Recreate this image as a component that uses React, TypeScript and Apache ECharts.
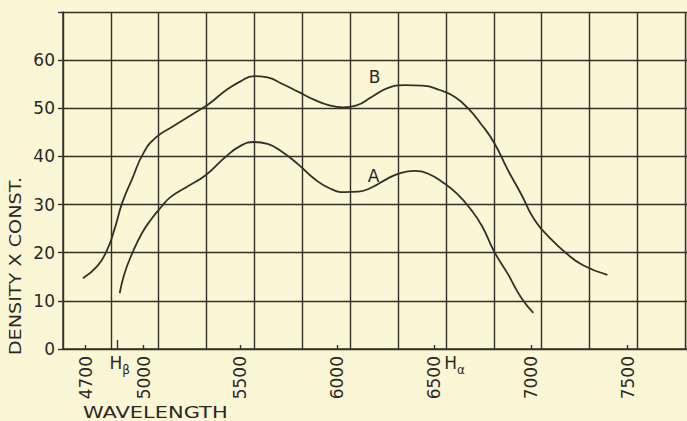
import React, { useEffect, useRef } from "react";
import * as echarts from "echarts";

// ---- data ----
const wavelengthsB = [4686, 4760, 4810, 4850, 4890, 4940, 5000, 5065, 5150, 5250, 5340, 5420, 5500, 5570, 5640, 5720, 5800, 5880, 5960, 6030, 6100, 6180, 6260, 6350, 6440, 6530, 6610, 6680, 6740, 6810, 6880, 6950, 7020, 7100, 7180, 7270, 7396];
const densityB = [14.7, 17.2, 20.5, 25, 30.5, 35.3, 40.8, 44, 46.2, 48.7, 51, 53.6, 55.6, 56.7, 56.4, 55, 53.4, 51.8, 50.6, 50.2, 50.6, 52.4, 54.2, 54.8, 54.7, 53.8, 52.3, 49.8, 46.9, 42.9, 37.3, 32.2, 26.8, 23, 20, 17.4, 15.4];
const wavelengthsA = [4876, 4900, 4940, 4990, 5040, 5090, 5140, 5220, 5320, 5420, 5500, 5570, 5640, 5720, 5800, 5880, 5960, 6040, 6110, 6180, 6260, 6330, 6400, 6470, 6550, 6620, 6690, 6750, 6810, 6880, 6950, 7013];
const densityA = [11.6, 15.6, 19.8, 24, 27, 29.5, 31.6, 33.6, 36.1, 39.8, 42.2, 43, 42.6, 40.8, 38.3, 35.4, 33.4, 32.6, 32.7, 33.6, 35.4, 36.6, 37, 36.4, 34.5, 32.2, 29, 25.4, 20.3, 15.7, 10.7, 7.5];
const wavelengthTicks = [4700, 5000, 5500, 6000, 6500, 7000, 7500];
const lineTicks = [4861, 6563];
const lineNames = ["β", "α"];
const curveLabels = ["B", "A"];
const curveLabelCoords = [[6193, 56.5], [6188, 35.9]];

const INK = "#34302b";
const TEXT = "#2b2925";
const BG = "#FAF6D6";
const FONT = "DejaVu Sans";

export default function App() {
  const ref = useRef<HTMLDivElement>(null);
  useEffect(() => {
    if (!ref.current) return;
    const chart = echarts.init(ref.current, undefined, { renderer: "svg" });
    const lamMin = 4583;
    const pxPerLam = 0.19508;
    const gridW = 629; // grid extends a few px beyond the right edge
    const lamMax = lamMin + gridW / pxPerLam;
    const cell = 48.25;
    const toPairs = (xs: number[], ys: number[]) => xs.map((x, i) => [x, ys[i]]);
    const richBase = { fontFamily: FONT, color: TEXT };
    chart.setOption({
      animation: false,
      backgroundColor: BG,
      grid: { left: 63, top: 12, right: 687 - 63 - gridW, bottom: 72, containLabel: false },
      xAxis: [
        {
          type: "value", min: 0, max: gridW / cell, interval: 1,
          axisLine: { show: true, lineStyle: { color: INK, width: 1.5 } },
          axisTick: { show: false }, axisLabel: { show: false },
          splitLine: { show: true, lineStyle: { color: INK, width: 1.4 } },
        },
        {
          type: "value", min: lamMin, max: lamMax, position: "bottom",
          axisLine: { show: false }, splitLine: { show: false },
          axisTick: { show: true, inside: true, length: 4, customValues: wavelengthTicks, lineStyle: { color: INK, width: 1.4 } },
          axisLabel: {
            show: true, customValues: wavelengthTicks, rotate: 90, margin: 7,
            color: TEXT, fontSize: 17, fontFamily: FONT,
            formatter: (v: number) => String(Math.round(v)),
          },
        },
        {
          type: "value", min: lamMin, max: lamMax, position: "bottom",
          axisLine: { show: false }, splitLine: { show: false },
          axisTick: { show: true, inside: true, length: 9, customValues: [lineTicks[0]], lineStyle: { color: INK, width: 1.4 } },
          axisLabel: {
            show: true, customValues: lineTicks, margin: 1, align: "center",
            formatter: (v: number) => {
              const i = lineTicks.findIndex((t) => Math.abs(t - v) < 1);
              return i === 0 ? "{hb|H}{s|" + lineNames[i] + "}" : "{ha|H}{s|" + lineNames[i] + "}";
            },
            rich: {
              hb: { ...richBase, fontSize: 17, lineHeight: 26, verticalAlign: "middle", padding: [0, 0, 0, 6] },
              ha: { ...richBase, fontSize: 17, lineHeight: 26, verticalAlign: "middle", padding: [0, 0, 0, 17] },
              s: { ...richBase, fontSize: 12, lineHeight: 12, verticalAlign: "bottom" },
            },
          },
        },
      ],
      yAxis: {
        type: "value", min: 0, max: 70, interval: 10,
        axisLine: { show: true, lineStyle: { color: INK, width: 1.5 } },
        axisTick: { show: true, length: 5, lineStyle: { color: INK, width: 1.4 } },
        axisLabel: {
          margin: 8, color: TEXT, fontSize: 17, fontFamily: FONT,
          formatter: (v: number) => (v >= 70 ? "" : String(v)),
        },
        splitLine: { show: true, lineStyle: { color: INK, width: 1.4 } },
      },
      graphic: [
        {
          type: "text", x: 16, y: 266, rotation: Math.PI / 2, scaleX: 1.2,
          style: { text: "DENSITY X CONST.", fill: TEXT, fontSize: 16, fontFamily: FONT, align: "center", verticalAlign: "middle" },
        },
        {
          type: "text", x: 83, y: 412, scaleX: 1.31,
          style: { text: "WAVELENGTH", fill: TEXT, fontSize: 16, fontFamily: FONT, align: "left", verticalAlign: "middle" },
        },
      ],
      series: [
        {
          type: "line", name: "B", xAxisIndex: 1, yAxisIndex: 0,
          data: toPairs(wavelengthsB, densityB), smooth: 0.5, symbol: "none",
          lineStyle: { color: INK, width: 1.8 },
          markPoint: {
            symbol: "circle", symbolSize: 0,
            label: { show: true, position: "inside", color: TEXT, fontSize: 17, fontFamily: FONT, formatter: curveLabels[0] },
            data: [{ coord: curveLabelCoords[0], value: curveLabels[0] }],
          },
        },
        {
          type: "line", name: "A", xAxisIndex: 1, yAxisIndex: 0,
          data: toPairs(wavelengthsA, densityA), smooth: 0.5, symbol: "none",
          lineStyle: { color: INK, width: 1.8 },
          markPoint: {
            symbol: "circle", symbolSize: 0,
            label: { show: true, position: "inside", color: TEXT, fontSize: 17, fontFamily: FONT, formatter: curveLabels[1] },
            data: [{ coord: curveLabelCoords[1], value: curveLabels[1] }],
          },
        },
      ],
    });
    return () => chart.dispose();
  }, []);
  return (
    <div
      ref={ref}
      style={{ position: "fixed", left: 0, top: 0, width: 687, height: 421, background: BG }}
    />
  );
}
